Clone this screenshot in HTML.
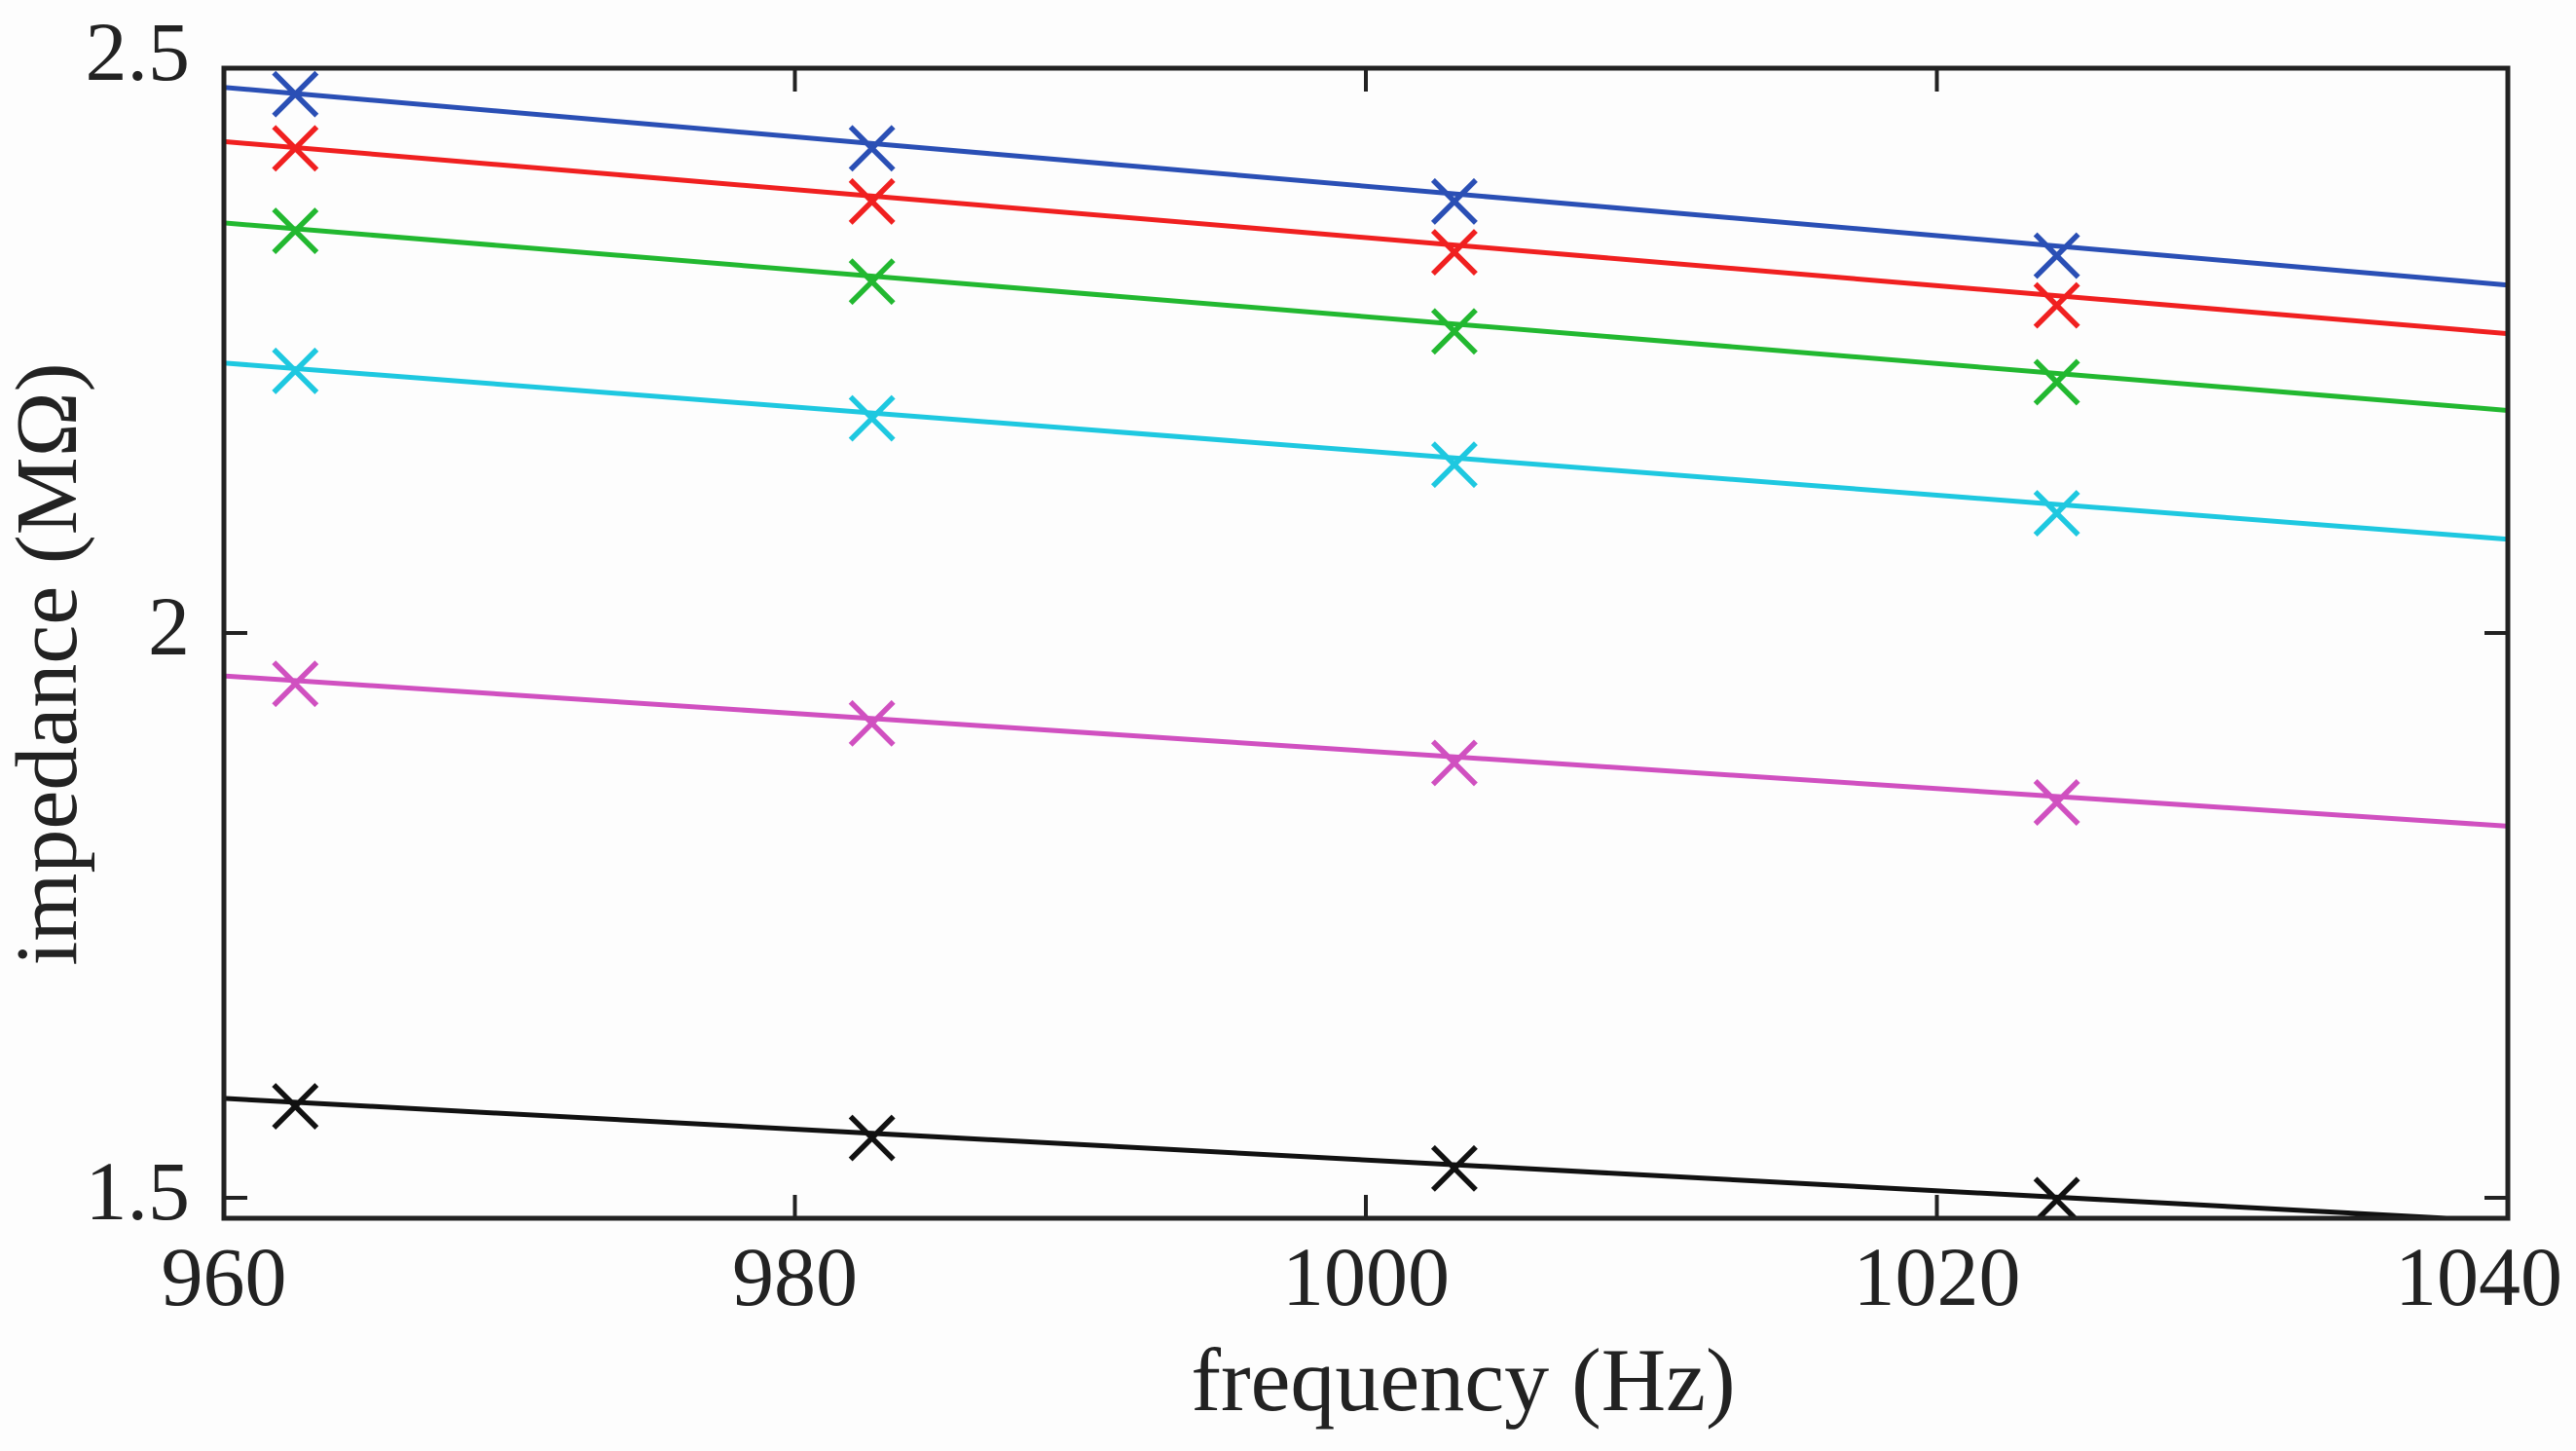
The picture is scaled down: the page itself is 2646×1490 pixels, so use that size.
<!DOCTYPE html>
<html><head><meta charset="utf-8"><style>
html,body{margin:0;padding:0;background:#fdfdfd;}
svg{display:block;}
text{font-family:"Liberation Serif",serif;fill:#222;}
</style></head><body>
<svg id="chart" width="2646" height="1490" viewBox="0 0 2646 1490" xmlns="http://www.w3.org/2000/svg">
<rect x="0" y="0" width="2646" height="1490" fill="#fdfdfd"/>
<g id="series"></g>
<g id="axes"></g>
<text x="1503" y="1448" font-size="92" text-anchor="middle">frequency (Hz)</text>
<text transform="translate(78,682) rotate(-90)" font-size="90" text-anchor="middle">impedance (MΩ)</text>
</svg>
<script>
const freqs = [962.5, 982.7, 1003.1, 1024.2];
const seriesNames = ["blue","red","green","cyan","magenta","black"];
const seriesColors = ["#2a4fb5","#f02020","#22b830","#1ec8e0","#d050c0","#111111"];
const blueVals = [2.477, 2.429, 2.382, 2.334];
const redVals = [2.429, 2.382, 2.337, 2.290];
const greenVals = [2.356, 2.311, 2.267, 2.222];
const cyanVals = [2.232, 2.190, 2.149, 2.106];
const magentaVals = [1.955, 1.920, 1.885, 1.850];
const blackVals = [1.581, 1.553, 1.526, 1.498];
const fitStart = [2.483, 2.435, 2.363, 2.239, 1.962, 1.588];
const fitEnd = [2.308, 2.265, 2.197, 2.083, 1.829, 1.479];
const xTicks = [960, 980, 1000, 1020, 1040];
const yTicks = [1.5, 2, 2.5];
const yTickLabels = ["1.5", "2", "2.5"];

const allVals = [blueVals, redVals, greenVals, cyanVals, magentaVals, blackVals];
const L = 230, R = 2576, T = 70, B = 1251;
const xMin = 960, xMax = 1040;
const yAt15 = 1230;
function xs(v){ return L + (v - xMin) / (xMax - xMin) * (R - L); }
function ys(v){ return yAt15 - (v - 1.5) / 1.0 * (yAt15 - T); }
const NS = "http://www.w3.org/2000/svg";
function mk(tag, attrs, parent){
  const e = document.createElementNS(NS, tag);
  for (const k in attrs) e.setAttribute(k, attrs[k]);
  parent.appendChild(e);
  return e;
}
const sg = document.getElementById('series');
const clip = mk('clipPath', {id:'pc'}, sg);
mk('rect', {x:L, y:T, width:R-L, height:B-T}, clip);
allVals.forEach((vals, i) => {
  const g = mk('g', {'clip-path':'url(#pc)'}, sg);
  
  
  const ln = mk('line', {x1:xs(xMin), y1:ys(fitStart[i]), x2:xs(xMax), y2:ys(fitEnd[i]), stroke:seriesColors[i], 'stroke-width':5}, g);
  
  
  vals.forEach((v, j) => {
    const cx = xs(freqs[j]), cy = ys(v), h = 22;
    const p = mk('path', {d:`M${cx-h},${cy-h}L${cx+h},${cy+h}M${cx-h},${cy+h}L${cx+h},${cy-h}`, stroke:seriesColors[i], 'stroke-width':5.5, fill:'none'}, g);
    
    
  });
});
const ag = document.getElementById('axes');
const box = mk('rect', {x:L, y:T, width:R-L, height:B-T, fill:'none', stroke:'#222', 'stroke-width':5}, ag);


xTicks.forEach((t, i) => {
  const x = xs(t);
  mk('line', {x1:x, y1:B, x2:x, y2:B-24, stroke:'#222', 'stroke-width':4}, ag);
  mk('line', {x1:x, y1:T, x2:x, y2:T+24, stroke:'#222', 'stroke-width':4}, ag);
  const last = i === xTicks.length - 1;
  const tx = mk('text', {x: last ? 2632 : x, y:1340, 'font-size':86, 'text-anchor': last ? 'end' : 'middle'}, ag);
  tx.textContent = String(t);
  
  
});
yTicks.forEach((t, i) => {
  const y = ys(t);
  mk('line', {x1:L, y1:y, x2:L+24, y2:y, stroke:'#222', 'stroke-width':4}, ag);
  mk('line', {x1:R, y1:y, x2:R-24, y2:y, stroke:'#222', 'stroke-width':4}, ag);
  const ty = (t === 2.5) ? 82 : y + 22;
  const tx = mk('text', {x:195, y:ty, 'font-size':86, 'text-anchor':'end'}, ag);
  tx.textContent = yTickLabels[i];
  
  
});
</script>
</body></html>
